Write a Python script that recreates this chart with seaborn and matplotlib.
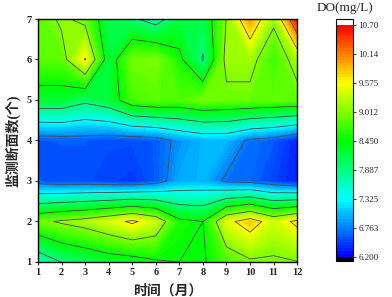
import numpy as np
import pandas as pd
import seaborn as sns
import matplotlib.pyplot as plt

# months on x, monitoring sections on y
months = list(range(1, 13))
sections = list(range(1, 8))

# DO (mg/L) per section, months 1..12
do_s1 = [7.55, 7.90, 8.05, 8.20, 8.25, 8.40, 8.45, 8.40, 8.75, 8.95, 8.95, 9.00]
do_s2 = [8.90, 9.07, 9.20, 9.40, 9.65, 9.35, 8.55, 8.45, 9.45, 9.80, 9.35, 9.67]
do_s3 = [6.60, 6.55, 6.55, 6.50, 6.45, 6.60, 6.95, 7.00, 6.70, 6.65, 6.50, 6.35]
do_s4 = [6.58, 6.60, 6.60, 6.55, 6.55, 6.60, 6.85, 7.00, 7.00, 6.70, 6.60, 6.35]
do_s5 = [8.23, 8.23, 8.00, 8.20, 8.75, 8.85, 8.80, 8.95, 8.90, 8.90, 8.85, 8.85]
do_s6 = [8.85, 8.85, 9.60, 8.20, 8.95, 8.98, 8.55, 7.85, 9.15, 9.15, 8.70, 9.20]
do_s7 = [8.80, 9.08, 8.90, 8.10, 7.95, 7.70, 8.17, 8.10, 9.03, 10.00, 9.10, 10.65]
do_rows = [do_s1, do_s2, do_s3, do_s4, do_s5, do_s6, do_s7]

level_values = [6.200, 6.763, 7.325, 7.887, 8.450, 9.012, 9.575, 10.14, 10.70]
level_labels = ['6.200', '6.763', '7.325', '7.887', '8.450', '9.012', '9.575', '10.14', '10.70']

sns.set_style('ticks')
plt.rcParams['font.family'] = ['Liberation Serif', 'Noto Sans CJK SC']
plt.rcParams['axes.unicode_minus'] = False

df = pd.DataFrame(
    [(m, s, v) for s, row in zip(sections, do_rows) for m, v in zip(months, row)],
    columns=['month', 'section', 'DO'],
)
grid = df.pivot(index='section', columns='month', values='DO')

cmap = sns.blend_palette(['#0000ff', '#00ffff', '#00ff00', '#ffff00', '#ff0000'], as_cmap=True)
cmap.set_under('black')
cmap.set_over('white')

fig = plt.figure(figsize=(3.92, 2.97), dpi=100)
ax = fig.add_axes([0.097, 0.118, 0.661, 0.818])

fill_levels = np.linspace(level_values[0], level_values[-1], 81)
cs = ax.contourf(grid.columns, grid.index, grid.values, levels=fill_levels,
                 cmap=cmap, extend='both')
ax.contour(grid.columns, grid.index, grid.values, levels=level_values[1:-1],
           colors='#4a4a4a', linewidths=0.6)

ax.set_xlim(1, 12)
ax.set_ylim(1, 7)
ax.set_xticks(months)
ax.set_yticks(sections)
ax.tick_params(labelsize=7.5, length=2.5, width=0.8, pad=2, direction='out')
for lbl in ax.get_xticklabels() + ax.get_yticklabels():
    lbl.set_fontweight('bold')
for sp in ax.spines.values():
    sp.set_linewidth(1.0)
    sp.set_color('black')

ax.set_xlabel('时间（月）', fontsize=10, fontweight='bold')
ax.set_ylabel('监测断面数(个)', fontsize=10, fontweight='bold')
ax.xaxis.set_label_coords(0.5, -0.09)
ax.yaxis.set_label_coords(-0.07, 0.5)

cax = fig.add_axes([0.857, 0.121, 0.0434, 0.815])
cb = fig.colorbar(cs, cax=cax, ticks=level_values, extendrect=True,
                  extendfrac=[0.018, 0.025])
cb.ax.set_yticklabels(level_labels)
cb.ax.tick_params(labelsize=6.5, length=2.5, width=0.6, pad=1.5, direction='out')
cb.outline.set_linewidth(0.8)
cb.outline.set_edgecolor('black')

fig.text(0.879, 0.973, 'DO(mg/L)', ha='center', va='center', fontsize=9.5)

fig.savefig('out.png', dpi=100)
